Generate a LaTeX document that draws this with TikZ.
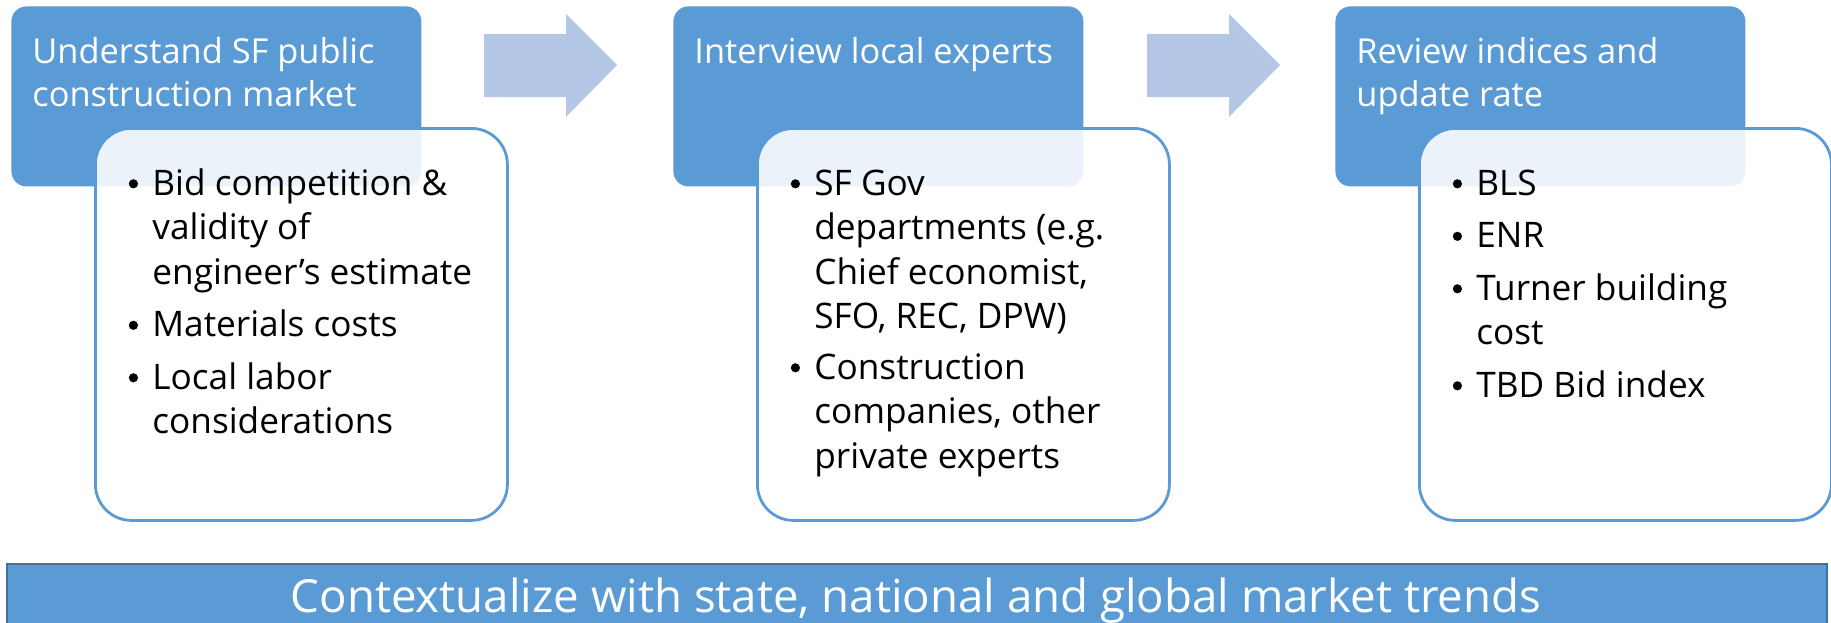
\documentclass[tikz,border=0pt]{standalone}
\usepackage{fontspec}
\setmainfont{Open Sans}
\definecolor{hblue}{HTML}{5B9BD5}
\definecolor{ablue}{HTML}{B4C7E7}
\definecolor{bborder}{HTML}{41719C}
\newcommand{\bul}{\makebox[19pt][c]{\tikz[baseline=-5.6pt]\fill[black] (0,0) circle (2.3pt);}}
\begin{document}
\begin{tikzpicture}[x=0.5pt,y=-0.5pt,
  header/.style={fill=hblue, rounded corners=7.5pt, anchor=north west,
    minimum width=205pt, minimum height=90pt, inner sep=0pt},
  detail/.style={fill=white, fill opacity=0.88, draw=hblue, draw opacity=1,
    line width=1.4pt, rounded corners=18pt, anchor=north west,
    minimum width=206pt, minimum height=196pt, inner sep=0pt},
  htext/.style={anchor=base west, inner sep=0pt, text=white,
    font=\fontsize{17.2pt}{21.5pt}\selectfont},
  btext/.style={anchor=base west, inner sep=0pt, text=black,
    font=\fontsize{17.6pt}{22.25pt}\selectfont},
  flow/.style={fill=ablue},
  bar/.style={fill=hblue, draw=bborder, line width=1.2pt, anchor=north west,
    minimum width=910pt, minimum height=32pt, inner sep=0pt},
  bartext/.style={anchor=base, inner sep=0pt, text=white,
    font=\fontsize{22.8pt}{28pt}\selectfont}]
\useasboundingbox (0,0) rectangle (1831,622);

% headers
\node[header] (h1) at (11,6) {};
\node[header] (h2) at (673,6) {};
\node[header] (h3) at (1335,6) {};

% flow arrows
\fill[flow] (484,34) -- (566,34) -- (566,14) -- (617,65) -- (566,117) -- (566,97) -- (484,97) -- cycle;
\fill[flow] (1147,34) -- (1229,34) -- (1229,14) -- (1280,65) -- (1229,117) -- (1229,97) -- (1147,97) -- cycle;

% detail boxes
\node[detail] (d1) at (94,127) {};
\node[detail] (d2) at (756,127) {};
\node[detail] (d3) at (1418,127) {};

% header texts
\node[htext] (h1t) at (32,63) {\begin{tabular}[t]{@{}l@{}}Understand SF public\\construction market\end{tabular}};
\node[htext] (h2t) at (694,63) {\begin{tabular}[t]{@{}l@{}}Interview local experts\end{tabular}};
\node[htext] (h3t) at (1356,63) {\begin{tabular}[t]{@{}l@{}}Review indices and\\update rate\end{tabular}};

% bullet texts
\node[btext] (d1t) at (114,195) {\begin{tabular}[t]{@{}l@{}l@{}}
\bul & Bid competition \&\\
 & validity of\\
 & engineer’s estimate\\[4pt]
\bul & Materials costs\\[4pt]
\bul & Local labor\\
 & considerations
\end{tabular}};
\node[btext] (d2t) at (776,195) {\begin{tabular}[t]{@{}l@{}l@{}}
\bul & SF Gov\\
 & departments (e.g.\\
 & Chief economist,\\
 & SFO, REC, DPW)\\[3pt]
\bul & Construction\\
 & companies, other\\
 & private experts
\end{tabular}};
\node[btext] (d3t) at (1438,195) {\begin{tabular}[t]{@{}l@{}l@{}}
\bul & BLS\\[4pt]
\bul & ENR\\[4pt]
\bul & Turner building\\
 & cost\\[4pt]
\bul & TBD Bid index
\end{tabular}};

% bottom bar
\node[bar] (b) at (6,563) {};
\node[bartext] (bt) at (916,612) {Contextualize with state, national and global market trends};
\end{tikzpicture}
\end{document}
